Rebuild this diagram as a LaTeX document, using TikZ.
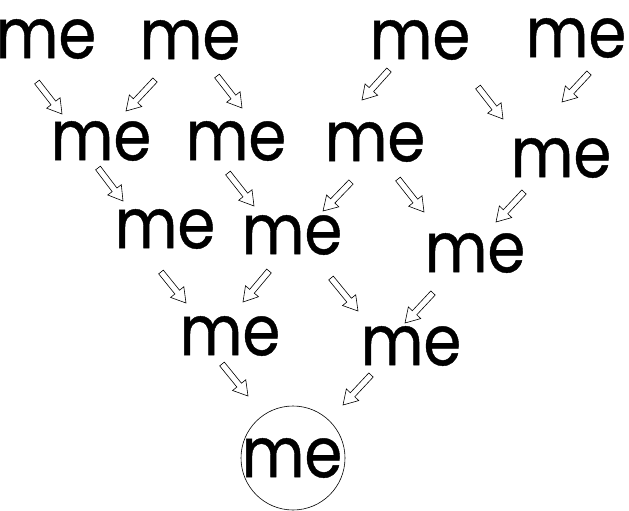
\documentclass[tikz,border=0pt]{standalone}
\usepackage{fontspec}
\setmainfont{Poppins}[FakeStretch=0.87, FakeBold=0.6]
\usetikzlibrary{calc}
\tikzset{
  word/.style={inner sep=0pt, font=\fontsize{70}{70}\selectfont},
  ring/.style={draw=black, line width=0.6pt},
  harrow/.style={draw=black, line width=0.6pt, fill=white, line join=miter,
    to path={let \p1=(\tikztostart), \p2=(\tikztotarget), \p3=($(\p2)!14pt!(\p1)$) in
      ($(\p1)!3pt!90:(\p2)$) -- ($(\p3)!3pt!90:(\p2)$) -- ($(\p3)!8.5pt!90:(\p2)$) -- (\p2)
      -- ($(\p3)!8.5pt!-90:(\p2)$) -- ($(\p3)!3pt!-90:(\p2)$) -- ($(\p1)!3pt!-90:(\p2)$) -- cycle}}
}
\begin{document}
\begin{tikzpicture}[x=1pt,y=-1pt]
\useasboundingbox (0,0) rectangle (629,511);
\node[word] (A1) at (46,39) {me};
\node[word] (A2) at (190,40) {me};
\node[word] (A3) at (420,40) {me};
\node[word] (A4) at (576,38) {me};
\node[word] (B1) at (101,141) {me};
\node[word] (B2) at (236,141) {me};
\node[word] (B3) at (375,142) {me};
\node[word] (B4) at (561,158) {me};
\node[word] (C1) at (165,229) {me};
\node[word] (C2) at (292,235) {me};
\node[word] (C3) at (475,253) {me};
\node[word] (D1) at (230,336) {me};
\node[word] (D2) at (411,346) {me};
\node[word] (E) at (292,458) {me};
\draw[ring] (E.center) ++(1,0) circle[radius=52pt];
\draw[harrow] ([shift={(-9,43)}]A1.center) to ([shift={(-39,-27)}]B1.center);
\draw[harrow] ([shift={(-35,40)}]A2.center) to ([shift={(25,-30)}]B1.center);
\draw[harrow] ([shift={(27,36)}]A2.center) to ([shift={(6,-33)}]B2.center);
\draw[harrow] ([shift={(-31,30)}]A3.center) to ([shift={(-13,-42)}]B3.center);
\draw[harrow] ([shift={(58,47)}]A3.center) to ([shift={(-58,-39)}]B4.center);
\draw[harrow] ([shift={(13,35)}]A4.center) to ([shift={(1,-56)}]B4.center);
\draw[harrow] ([shift={(-3,27)}]B1.center) to ([shift={(-42,-28)}]C1.center);
\draw[harrow] ([shift={(-8,32)}]B2.center) to ([shift={(-38,-29)}]C2.center);
\draw[harrow] ([shift={(-24,40)}]B3.center) to ([shift={(31,-24)}]C2.center);
\draw[harrow] ([shift={(23,37)}]B3.center) to ([shift={(-51,-41)}]C3.center);
\draw[harrow] ([shift={(-37,34)}]B4.center) to ([shift={(21,-31)}]C3.center);
\draw[harrow] ([shift={(-4,43)}]C1.center) to ([shift={(-44,-33)}]D1.center);
\draw[harrow] ([shift={(-23,36)}]C2.center) to ([shift={(13,-34)}]D1.center);
\draw[harrow] ([shift={(39,43)}]C2.center) to ([shift={(-53,-35)}]D2.center);
\draw[harrow] ([shift={(-42,40)}]C3.center) to ([shift={(-6,-23)}]D2.center);
\draw[harrow] ([shift={(-8,28)}]D1.center) to ([shift={(-44,-62)}]E.center);
\draw[harrow] ([shift={(-40,29)}]D2.center) to ([shift={(51,-53)}]E.center);
\end{tikzpicture}
\end{document}
